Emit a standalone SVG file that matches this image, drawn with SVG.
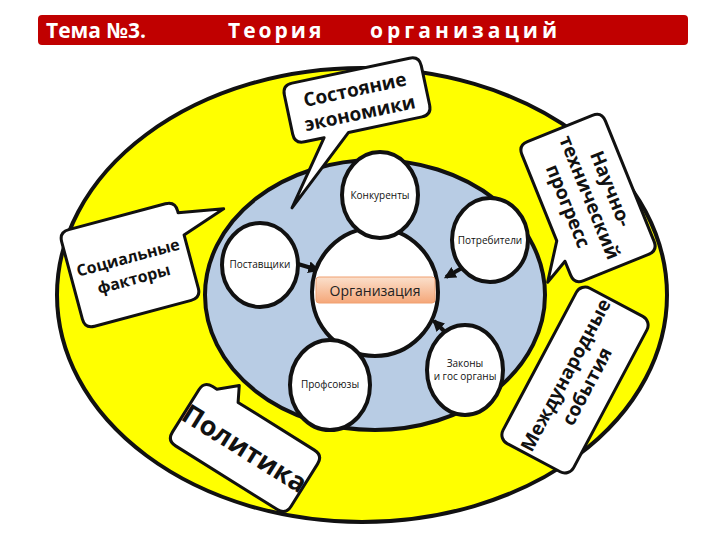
<svg xmlns="http://www.w3.org/2000/svg" width="720" height="540" viewBox="0 0 720 540">
<defs>
<style>
.ln{stroke:#111;stroke-width:4;}
.sc{fill:#fff;stroke:#111;stroke-width:4;}
.co{fill:#fff;stroke:#111;stroke-width:3;stroke-linejoin:round;}
.t{font-family:"Open Sans","DejaVu Sans",sans-serif;font-size:10px;fill:#111;text-anchor:middle;}
.b{font-family:"Open Sans","DejaVu Sans",sans-serif;font-weight:bold;font-size:19px;fill:#111;text-anchor:middle;}
.s{font-size:16px;}
.p{font-size:27px;}
.h{font-family:"Open Sans","DejaVu Sans",sans-serif;font-weight:bold;font-size:21px;fill:#fff;}
</style>
<linearGradient id="og" x1="0" y1="0" x2="0" y2="1"><stop offset="0" stop-color="#fbe0cc"/><stop offset="1" stop-color="#f5a779"/></linearGradient>
<marker id="ar" viewBox="0 0 10 10" refX="8" refY="5" markerWidth="3" markerHeight="3" orient="auto"><path d="M0,0L10,5L0,10Z" fill="#111"/></marker>
</defs>
<rect width="720" height="540" fill="#fff"/>
<g id="title">
<rect x="38" y="15" width="650" height="30" rx="4" fill="#c00000"/>
<text class="h" x="46" y="38">Тема №3.</text>
<text class="h" x="228" y="38" letter-spacing="3">Теория</text>
<text class="h" x="370" y="38" letter-spacing="4">организаций</text>
</g>
<g id="outer"><ellipse cx="362" cy="295" rx="305" ry="227" fill="#ffff00" stroke="#111" stroke-width="4"/></g>
<g id="inner"><ellipse cx="375" cy="295" rx="170" ry="135" fill="#b8cce4" stroke="#111" stroke-width="4"/></g>
<g id="connectors" class="ln" fill="none" marker-end="url(#ar)">
<line x1="377" y1="238" x2="376" y2="229"/>
<line x1="462" y1="268" x2="446" y2="277"/>
<line x1="298" y1="264" x2="318" y2="270"/>
<line x1="344" y1="341" x2="354" y2="329"/>
<line x1="447" y1="334" x2="434" y2="321"/>
</g>
<g id="org">
<ellipse cx="375" cy="292" rx="63" ry="64" class="sc"/>
<rect x="316" y="277" width="119" height="26" rx="3" fill="url(#og)" stroke="#f0a070"/>
<text x="375" y="296" font-family="Open Sans,DejaVu Sans,sans-serif" font-size="14" fill="#222" text-anchor="middle">Организация</text>
</g>
<g id="konk"><ellipse cx="380" cy="195" rx="38" ry="43" class="sc"/><text class="t" x="380" y="199">Конкуренты</text></g>
<g id="potr"><ellipse cx="490" cy="240" rx="38" ry="42" class="sc"/><text class="t" x="490" y="244">Потребители</text></g>
<g id="post"><ellipse cx="260" cy="265" rx="38" ry="42" class="sc"/><text class="t" x="260" y="268">Поставщики</text></g>
<g id="prof"><ellipse cx="330" cy="385" rx="40" ry="45" class="sc"/><text class="t" x="330" y="388">Профсоюзы</text></g>
<g id="zak"><ellipse cx="465" cy="370" rx="38" ry="45" class="sc"/><text class="t" x="465" y="367">Законы</text><text class="t" x="465" y="380">и гос органы</text></g>
<g id="econ" transform="translate(357,100) rotate(-12)">
<path class="co" d="M-60,-30H60Q70,-30 70,-20V20Q70,30 60,30H-15L-86,92L-40,30H-60Q-70,30 -70,20V-20Q-70,-30 -60,-30Z"/>
<text class="b" x="0" y="-4">Состояние</text><text class="b" x="0" y="20">экономики</text>
</g>
<g id="soc" transform="translate(130,265) rotate(-15)">
<path class="co" d="M-50,-50H50Q60,-50 60,-40V-38L105,-30L60,-15V40Q60,50 50,50H-50Q-60,50 -60,40V-40Q-60,-50 -50,-50Z"/>
<text class="b s" x="0" y="-2">Социальные</text><text class="b s" x="0" y="20">факторы</text>
</g>
<g id="nauch" transform="translate(588,198) rotate(68)">
<path class="co" d="M-65,-45H65Q75,-45 75,-35V35Q75,45 65,45H50L63,69L28,45H-65Q-75,45 -75,35V-35Q-75,-45 -65,-45Z"/>
<text class="b" x="0" y="-18">Научно-</text><text class="b" x="0" y="5">технический</text><text class="b" x="0" y="28">прогресс</text>
</g>
<g id="mezh" transform="translate(575,380) rotate(-62)">
<rect class="co" x="-88" y="-40" width="176" height="80" rx="10"/>
<text class="b" x="0" y="-4">Международные</text><text class="b" x="0" y="20">события</text>
</g>
<g id="polit" transform="translate(245,448) rotate(32)">
<path class="co" d="M-60,-35H-55L-38,-50L-30,-35H60Q70,-35 70,-25V25Q70,35 60,35H-60Q-70,35 -70,25V-25Q-70,-35 -60,-35Z"/>
<text class="b p" x="0" y="10">Политика</text>
</g>
</svg>
